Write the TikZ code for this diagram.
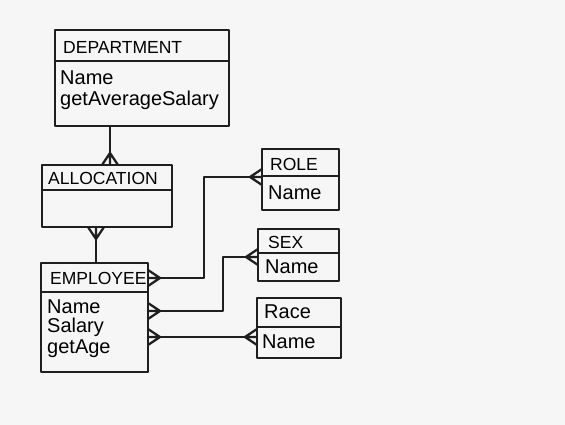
\documentclass[tikz,border=0pt]{standalone}
\usepackage{fontspec}
\setmainfont{Liberation Sans}
\begin{document}
\begin{tikzpicture}[x=1pt,y=-1pt,
  ink/.style={draw=black!88, line width=2.3pt, line join=round, line cap=round},
  box/.style={ink, rectangle, inner sep=0pt, outer sep=0pt, anchor=north west},
  head/.style={anchor=west, inner sep=0pt, font=\fontsize{17.5}{19}\selectfont},
  attr/.style={anchor=west, inner sep=0pt, font=\fontsize{20}{22}\selectfont},
  crowR/.pic={\draw[ink] (0,-8) -- (12,0) -- (0,8) (0,0) -- (12,0);},
  crowL/.pic={\draw[ink] (0,-8) -- (-12,0) -- (0,8) (0,0) -- (-12,0);},
  crowU/.pic={\draw[ink] (-8,0) -- (0,-12) -- (8,0) (0,0) -- (0,-12);},
  crowD/.pic={\draw[ink] (-8,0) -- (0,12) -- (8,0) (0,0) -- (0,12);}
]
\fill[white!93!gray] (0,0) rectangle (565,425);
\useasboundingbox (0,0) rectangle (565,425);

% DEPARTMENT
\node[box, minimum width=174pt, minimum height=96pt] (dept) at (55,30) {};
\draw[ink] (dept.west |- 0,61) -- (dept.east |- 0,61);
\node[head] (deptT) at (63,47) {DEPARTMENT};
\node[attr] (deptA1) at (60,78) {Name};
\node[attr] (deptA2) at (60,100) {getAverageSalary};

% ALLOCATION
\node[box, minimum width=130pt, minimum height=62pt] (alloc) at (42,165) {};
\draw[ink] (alloc.west |- 0,190) -- (alloc.east |- 0,190);
\node[head] (allocT) at (48,178) {ALLOCATION};

% EMPLOYEE
\node[box, minimum width=107pt, minimum height=109pt] (emp) at (41,263) {};
\draw[ink] (emp.west |- 0,292) -- (emp.east |- 0,292);
\node[head] (empT) at (50,278) {EMPLOYEE};
\node[attr] (empA1) at (47,307) {Name};
\node[attr] (empA2) at (47,327) {Salary};
\node[attr] (empA3) at (47,349) {getAge};

% ROLE
\node[box, minimum width=77pt, minimum height=61pt] (role) at (262,149) {};
\draw[ink] (role.west |- 0,176) -- (role.east |- 0,176);
\node[head] (roleT) at (270,164) {ROLE};
\node[attr] (roleA) at (268,193) {Name};

% SEX
\node[box, minimum width=81pt, minimum height=52pt] (sex) at (258,229) {};
\draw[ink] (sex.west |- 0,253) -- (sex.east |- 0,253);
\node[head] (sexT) at (268,242) {SEX};
\node[attr] (sexA) at (265,267) {Name};

% RACE
\node[box, minimum width=84pt, minimum height=60pt] (race) at (257,298) {};
\draw[ink] (race.west |- 0,327) -- (race.east |- 0,327);
\node[attr] (raceT) at (264,312) {Race};
\node[attr] (raceA) at (262,342) {Name};

% connectors
\draw[ink] (dept.south -| 110,0) -- (alloc.north -| 110,0);
\pic at (alloc.north -| 110,0) {crowU};

\draw[ink] (alloc.south -| 96,0) -- (emp.north -| 96,0);
\pic at (alloc.south -| 96,0) {crowD};

\draw[ink] (emp.east |- 0,278) -- (204,278) |- (role.west |- 0,177);
\pic at (emp.east |- 0,278) {crowR};
\pic at (role.west |- 0,177) {crowL};

\draw[ink] (emp.east |- 0,311) -- (223,311) |- (sex.west |- 0,257);
\pic at (emp.east |- 0,311) {crowR};
\pic at (sex.west |- 0,257) {crowL};

\draw[ink] (emp.east |- 0,337) -- (race.west |- 0,337);
\pic at (emp.east |- 0,337) {crowR};
\pic at (race.west |- 0,337) {crowL};
\end{tikzpicture}
\end{document}
